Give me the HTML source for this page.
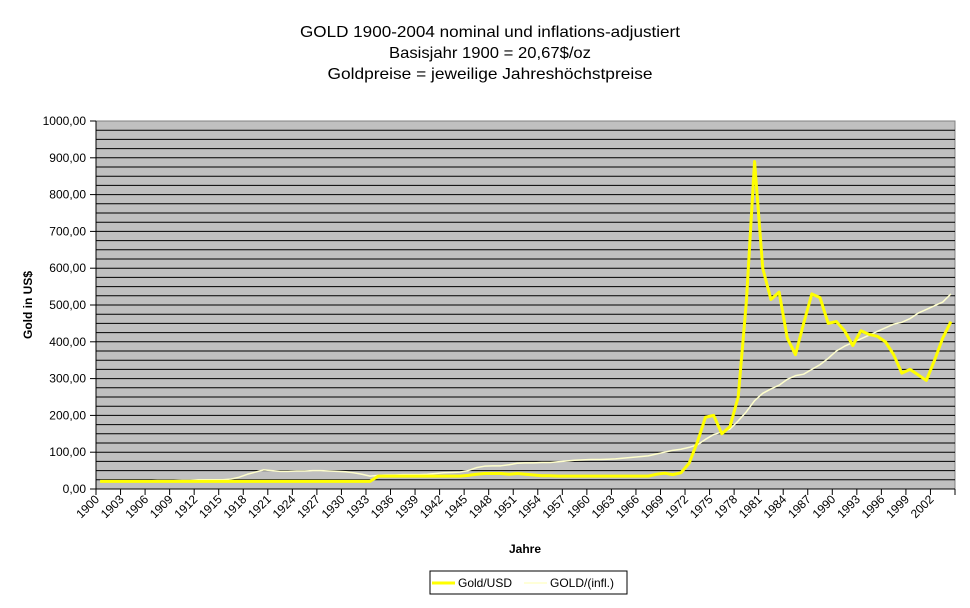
<!DOCTYPE html>
<html><head><meta charset="utf-8"><style>
body{margin:0;background:#fff;width:970px;height:603px;overflow:hidden;font-family:"Liberation Sans",Arial,sans-serif}
</style></head><body>
<svg id="chart" width="970" height="603" xmlns="http://www.w3.org/2000/svg" font-family="Liberation Sans, Arial, sans-serif">
<g font-size="16" text-anchor="middle" fill="#000">
<text x="490" y="37" textLength="380" lengthAdjust="spacingAndGlyphs">GOLD 1900-2004 nominal und inflations-adjustiert</text>
<text x="490" y="58" textLength="202" lengthAdjust="spacingAndGlyphs">Basisjahr 1900 = 20,67$/oz</text>
<text x="490" y="79" textLength="325" lengthAdjust="spacingAndGlyphs">Goldpreise = jeweilige Jahreshöchstpreise</text>
</g>
<rect x="96" y="121" width="859" height="368" fill="#c0c0c0" stroke="#808080"/>
<g id="grid"></g><g id="yax"></g><g id="xax"></g><g id="series"></g>
<text transform="translate(32,305) rotate(-90)" text-anchor="middle" font-size="12" font-weight="bold">Gold in US$</text>
<text x="525" y="553" text-anchor="middle" font-size="12" font-weight="bold">Jahre</text>
<g>
<rect x="430" y="571" width="197" height="23" fill="#fff" stroke="#000"/>
<line x1="432" y1="583" x2="455" y2="583" stroke="#ffff00" stroke-width="3"/>
<text x="458" y="587" font-size="12">Gold/USD</text>
<line x1="524" y1="583" x2="547" y2="583" stroke="#ffffcc" stroke-width="1.5"/>
<text x="550" y="587" font-size="12">GOLD/(infl.)</text>
</g>
</svg>
<script>
const startYear=1900;
const nominal=[20.67,20.67,20.67,20.67,20.67,20.67,20.67,20.67,20.67,20.67,20.67,20.67,20.67,20.67,20.67,20.67,20.67,20.67,20.67,20.67,20.67,20.67,20.67,20.67,20.67,20.67,20.67,20.67,20.67,20.67,20.67,20.67,20.67,20.67,
35,35,35,35,35,35,35,35,35,35,35,37,40,42,42,42,40,42,40,38,36,36,35,35,35,35,35,35,35,35,35,35,35,35,40,43,39,44,70,127,195,200,150,170,250,510,890,600,515,535,410,365,450,530,520,450,455,430,390,430,420,415,400,365,315,325,310,295,350,410,455];
const inflation=[21,21,21,22,22,22,22,23,23,23,24,24,25,25,25,25,27,32,40,46,52,50,48,48,49,49,50,50,49,48,47,44,40,35,
37,38,38,39,39,39,40,42,44,45,46,50,58,62,63,63,66,70,71,71,72,72,74,76,78,79,80,80,81,82,84,86,88,90,95,100,105,108,113,120,135,148,155,163,185,210,240,260,272,282,298,308,312,325,338,355,375,388,398,408,418,428,438,448,453,463,478,488,498,508,530];
const yTicks=[0,100,200,300,400,500,600,700,800,900,1000];
const yTickLabels=["0,00","100,00","200,00","300,00","400,00","500,00","600,00","700,00","800,00","900,00","1000,00"];
const NS="http://www.w3.org/2000/svg";
const L=96,R=955,T=121,B=489,N=nominal.length,cw=(R-L)/N;
function yS(v){return B-(v/1000)*(B-T);}
function xS(i){return L+(i+0.5)*cw;}
function mk(t,a,p){const e=document.createElementNS(NS,t);for(const k in a)e.setAttribute(k,a[k]);p.appendChild(e);return e;}
const grid=document.getElementById('grid'),yax=document.getElementById('yax'),xax=document.getElementById('xax'),ser=document.getElementById('series');
for(let v=25;v<1000;v+=25){const l=mk('line',{x1:L,x2:R,y1:yS(v),y2:yS(v),stroke:'#000','stroke-width':1},grid);

}
mk('line',{x1:L,x2:L,y1:T,y2:B,stroke:'#000'},yax);
yTicks.forEach((v,k)=>{mk('line',{x1:L-6,x2:L,y1:yS(v),y2:yS(v),stroke:'#000'},yax);
const t=mk('text',{x:L-10,y:yS(v)+4,'text-anchor':'end','font-size':12},yax);t.textContent=yTickLabels[k];

});
mk('line',{x1:L,x2:R,y1:B,y2:B,stroke:'#000'},xax);
for(let i=0;i<=N;i+=3){const x=L+i*cw;mk('line',{x1:x,x2:x,y1:B,y2:B+6,stroke:'#000'},xax);
if(i<N){const t=mk('text',{transform:`translate(${x+4},${B+11}) rotate(-45)`,'text-anchor':'end','font-size':12},xax);t.textContent=String(startYear+i);

}}
function line(d,c,w,name){const p=mk('polyline',{points:d.map((v,i)=>xS(i)+','+yS(v)).join(' '),fill:'none',stroke:c,'stroke-width':w,'stroke-linejoin':'round'},ser);

}
line(inflation,'#ffffcc',1.5,'series-gold-inflation');
line(nominal,'#ffff00',3,'series-gold-usd');
</script>
</body></html>
